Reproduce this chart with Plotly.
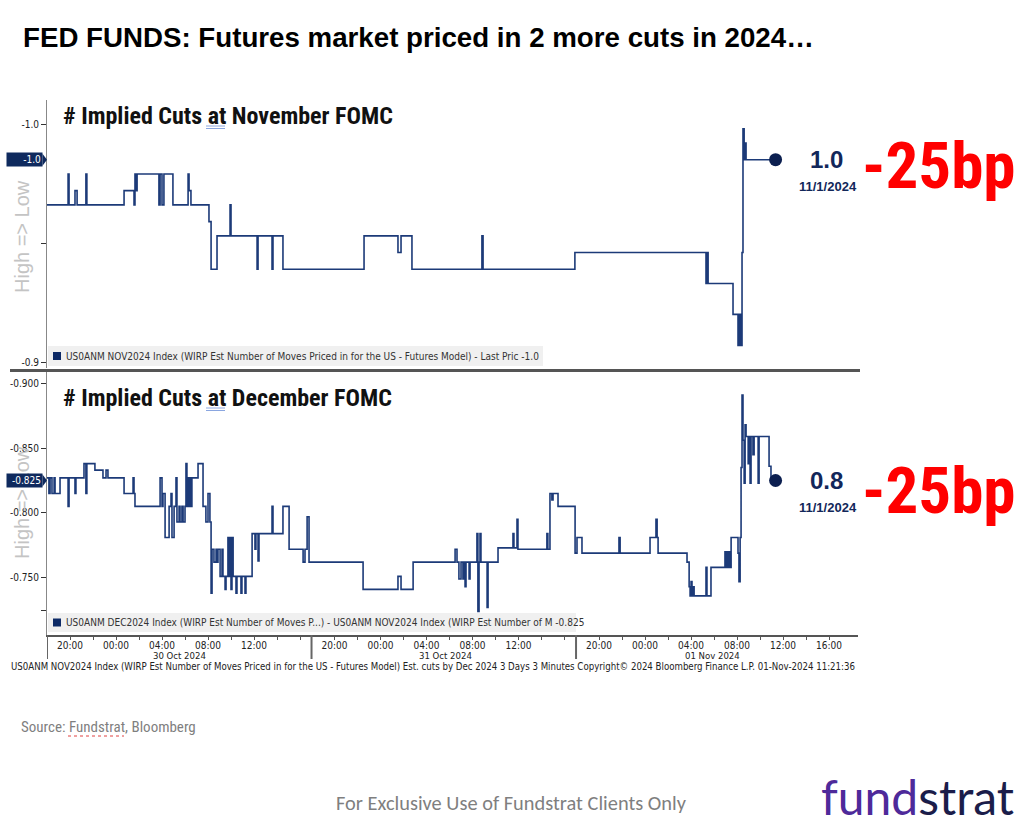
import plotly.graph_objects as go

# ---------------- data ----------------
NOV_TIME = [
    "2024-10-29 18:00", "2024-10-29 19:50", "2024-10-29 19:55", "2024-10-29 20:26", "2024-10-29 20:37",
    "2024-10-29 21:23", "2024-10-29 21:28", "2024-10-30 00:42", "2024-10-30 01:34", "2024-10-30 01:39",
    "2024-10-30 01:44", "2024-10-30 01:50", "2024-10-30 03:44", "2024-10-30 03:50", "2024-10-30 04:00",
    "2024-10-30 04:10", "2024-10-30 04:57", "2024-10-30 06:16", "2024-10-30 06:21", "2024-10-30 06:31",
    "2024-10-30 08:05", "2024-10-30 08:16", "2024-10-30 08:47", "2024-10-30 09:55", "2024-10-30 10:00",
    "2024-10-30 12:16", "2024-10-30 12:21", "2024-10-30 13:34", "2024-10-30 13:39", "2024-10-30 14:31",
    "2024-10-30 22:34", "2024-10-31 01:31", "2024-10-31 01:47", "2024-10-31 02:44", "2024-10-31 08:49",
    "2024-10-31 08:55", "2024-10-31 16:54", "2024-11-01 05:18", "2024-11-01 05:23", "2024-11-01 05:29",
    "2024-11-01 07:39", "2024-11-01 08:05", "2024-11-01 08:10", "2024-11-01 08:16", "2024-11-01 08:21",
    "2024-11-01 08:24", "2024-11-01 08:26", "2024-11-01 08:31", "2024-11-01 08:37", "2024-11-01 08:42",
    "2024-11-01 08:47", "2024-11-01 11:21",
]
NOV_CUTS = [
    -0.966, -0.979, -0.966, -0.972, -0.966,
    -0.979, -0.966, -0.972, -0.966, -0.979,
    -0.972, -0.979, -0.966, -0.979, -0.966,
    -0.979, -0.966, -0.979, -0.972, -0.966,
    -0.959, -0.939, -0.953, -0.966, -0.953,
    -0.939, -0.953, -0.939, -0.953, -0.939,
    -0.953, -0.946, -0.953, -0.939, -0.953,
    -0.939, -0.946, -0.933, -0.946, -0.933,
    -0.920, -0.907, -0.920, -0.907, -0.920,
    -0.907, -0.946, -0.998, -0.985, -0.992,
    -0.985, -0.985,
]

DEC_TIME = [
    "2024-10-29 18:00", "2024-10-29 18:10", "2024-10-29 18:16", "2024-10-29 18:26", "2024-10-29 18:37",
    "2024-10-29 18:42", "2024-10-29 19:08", "2024-10-29 19:50", "2024-10-29 19:55", "2024-10-29 20:26",
    "2024-10-29 20:31", "2024-10-29 21:13", "2024-10-29 21:23", "2024-10-29 21:28", "2024-10-29 22:10",
    "2024-10-29 22:52", "2024-10-29 23:08", "2024-10-29 23:18", "2024-10-30 00:42", "2024-10-30 01:29",
    "2024-10-30 01:34", "2024-10-30 01:39", "2024-10-30 03:50", "2024-10-30 04:00", "2024-10-30 04:05",
    "2024-10-30 04:16", "2024-10-30 04:37", "2024-10-30 04:47", "2024-10-30 04:52", "2024-10-30 05:03",
    "2024-10-30 05:13", "2024-10-30 05:18", "2024-10-30 05:29", "2024-10-30 05:34", "2024-10-30 05:44",
    "2024-10-30 05:50", "2024-10-30 06:00", "2024-10-30 06:05", "2024-10-30 06:10", "2024-10-30 06:16",
    "2024-10-30 06:21", "2024-10-30 06:26", "2024-10-30 06:31", "2024-10-30 06:36", "2024-10-30 07:08",
    "2024-10-30 07:34", "2024-10-30 07:49", "2024-10-30 08:00", "2024-10-30 08:10", "2024-10-30 08:16",
    "2024-10-30 08:21", "2024-10-30 08:31", "2024-10-30 08:42", "2024-10-30 08:47", "2024-10-30 08:52",
    "2024-10-30 09:03", "2024-10-30 09:13", "2024-10-30 09:18", "2024-10-30 09:29", "2024-10-30 09:34",
    "2024-10-30 09:44", "2024-10-30 09:50", "2024-10-30 09:55", "2024-10-30 10:00", "2024-10-30 10:05",
    "2024-10-30 10:11", "2024-10-30 10:26", "2024-10-30 10:31", "2024-10-30 10:52", "2024-10-30 10:57",
    "2024-10-30 11:13", "2024-10-30 11:18", "2024-10-30 11:50", "2024-10-30 12:05", "2024-10-30 12:10",
    "2024-10-30 12:21", "2024-10-30 12:26", "2024-10-30 13:34", "2024-10-30 13:39", "2024-10-30 14:31",
    "2024-10-30 15:03", "2024-10-30 16:16", "2024-10-30 16:26", "2024-10-30 16:37", "2024-10-30 16:47",
    "2024-10-30 22:29", "2024-10-31 01:31", "2024-10-31 01:47", "2024-10-31 02:50", "2024-10-31 06:29",
    "2024-10-31 06:39", "2024-10-31 06:49", "2024-10-31 07:00", "2024-10-31 07:10", "2024-10-31 07:16",
    "2024-10-31 07:21", "2024-10-31 07:26", "2024-10-31 07:42", "2024-10-31 07:47", "2024-10-31 08:23",
    "2024-10-31 08:28", "2024-10-31 08:34", "2024-10-31 08:39", "2024-10-31 08:44", "2024-10-31 09:16",
    "2024-10-31 09:21", "2024-10-31 10:13", "2024-10-31 11:31", "2024-10-31 11:36", "2024-10-31 11:52",
    "2024-10-31 11:57", "2024-10-31 14:28", "2024-10-31 14:33", "2024-10-31 14:44", "2024-10-31 14:54",
    "2024-10-31 15:00", "2024-10-31 15:26", "2024-10-31 16:55", "2024-10-31 18:05", "2024-10-31 18:31",
    "2024-10-31 21:44", "2024-10-31 21:50", "2024-11-01 00:26", "2024-11-01 00:57", "2024-11-01 01:03",
    "2024-11-01 01:08", "2024-11-01 03:39", "2024-11-01 03:50", "2024-11-01 03:55", "2024-11-01 04:00",
    "2024-11-01 04:05", "2024-11-01 04:10", "2024-11-01 04:16", "2024-11-01 05:18", "2024-11-01 05:23",
    "2024-11-01 05:44", "2024-11-01 06:57", "2024-11-01 07:03", "2024-11-01 07:08", "2024-11-01 07:13",
    "2024-11-01 07:18", "2024-11-01 07:23", "2024-11-01 07:29", "2024-11-01 08:05", "2024-11-01 08:10",
    "2024-11-01 08:16", "2024-11-01 08:21", "2024-11-01 08:26", "2024-11-01 08:31", "2024-11-01 08:37",
    "2024-11-01 08:42", "2024-11-01 08:47", "2024-11-01 08:58", "2024-11-01 09:03", "2024-11-01 09:08",
    "2024-11-01 09:13", "2024-11-01 09:23", "2024-11-01 09:29", "2024-11-01 09:50", "2024-11-01 09:55",
    "2024-11-01 10:47", "2024-11-01 10:57", "2024-11-01 11:21",
]
DEC_CUTS = [
    -0.827, -0.815, -0.827, -0.815, -0.827,
    -0.815, -0.827, -0.805, -0.827, -0.815,
    -0.827, -0.838, -0.815, -0.838, -0.833,
    -0.827, -0.833, -0.827, -0.815, -0.827,
    -0.815, -0.805, -0.827, -0.805, -0.815,
    -0.781, -0.805, -0.815, -0.781, -0.805,
    -0.827, -0.793, -0.805, -0.793, -0.805,
    -0.793, -0.805, -0.838, -0.805, -0.827,
    -0.805, -0.827, -0.805, -0.827, -0.838,
    -0.805, -0.793, -0.815, -0.793, -0.738,
    -0.772, -0.762, -0.772, -0.762, -0.772,
    -0.751, -0.772, -0.751, -0.741, -0.751,
    -0.781, -0.751, -0.781, -0.741, -0.781,
    -0.751, -0.738, -0.751, -0.738, -0.751,
    -0.738, -0.751, -0.784, -0.772, -0.784,
    -0.763, -0.784, -0.805, -0.784, -0.805,
    -0.772, -0.762, -0.772, -0.797, -0.762,
    -0.741, -0.751, -0.741, -0.762, -0.772,
    -0.762, -0.749, -0.762, -0.749, -0.762,
    -0.743, -0.762, -0.749, -0.762, -0.784,
    -0.724, -0.762, -0.784, -0.762, -0.727,
    -0.762, -0.773, -0.784, -0.773, -0.795,
    -0.772, -0.784, -0.772, -0.815, -0.810,
    -0.815, -0.805, -0.769, -0.781, -0.769,
    -0.781, -0.769, -0.781, -0.795, -0.781,
    -0.769, -0.762, -0.743, -0.736, -0.747,
    -0.736, -0.743, -0.736, -0.758, -0.736,
    -0.758, -0.770, -0.758, -0.770, -0.758,
    -0.770, -0.758, -0.781, -0.769, -0.747,
    -0.781, -0.835, -0.891, -0.856, -0.823,
    -0.868, -0.859, -0.838, -0.859, -0.823,
    -0.859, -0.845, -0.859, -0.823, -0.859,
    -0.836, -0.825, -0.825,
]

TICK_TIMES = [
    "2024-10-29 20:00", "2024-10-29 22:00", "2024-10-30 00:00", "2024-10-30 02:00", "2024-10-30 04:00",
    "2024-10-30 06:00", "2024-10-30 08:00", "2024-10-30 10:00", "2024-10-30 12:00", "2024-10-30 14:00",
    "2024-10-30 16:00",
    "2024-10-30 20:00", "2024-10-30 22:00", "2024-10-31 00:00", "2024-10-31 02:00", "2024-10-31 04:00",
    "2024-10-31 06:00", "2024-10-31 08:00", "2024-10-31 10:00", "2024-10-31 12:00", "2024-10-31 14:00",
    "2024-10-31 16:00",
    "2024-10-31 20:00", "2024-10-31 22:00", "2024-11-01 00:00", "2024-11-01 02:00", "2024-11-01 04:00",
    "2024-11-01 06:00", "2024-11-01 08:00", "2024-11-01 10:00", "2024-11-01 12:00", "2024-11-01 14:00",
    "2024-11-01 16:00",
]
TICK_LABELS = [
    "20:00", "", "00:00", "", "04:00", "", "08:00", "", "12:00", "", "",
    "20:00", "", "00:00", "", "04:00", "", "08:00", "", "12:00", "", "",
    "20:00", "", "00:00", "", "04:00", "", "08:00", "", "12:00", "", "16:00",
]
SESSION_STARTS = ["2024-10-29 18:00", "2024-10-30 18:00", "2024-10-31 18:00"]
DATE_LABELS = ["30 Oct 2024", "31 Oct 2024", "01 Nov 2024"]
DATE_CENTERS = ["2024-10-30 05:30", "2024-10-31 05:40", "2024-11-01 05:50"]
X_RANGE = ["2024-10-29 18:00", "2024-11-01 19:31"]

NOV_TICKS = [-1.0, -0.95, -0.9]
NOV_TICK_TEXT = ["-1.0", "", "-0.9"]
DEC_TICKS = [-0.9, -0.85, -0.8, -0.75, -0.725]
DEC_TICK_TEXT = ["-0.900", "-0.850", "-0.800", "-0.750", ""]

# ---------------- layout helpers ----------------
W, H = 1024, 824


def px(x):
    return x / W


def py(y):
    return 1 - y / H


NAVY = "#1c3a78"
TAG = "#0f2a5e"
DOT = "#0c1f50"
SANS = "Liberation Sans, Arial, sans-serif"
BBG = "DejaVu Sans Condensed, Tahoma, Liberation Sans, sans-serif"
NARROW = "Roboto Condensed, Arial Narrow, Liberation Sans, sans-serif"

NOV_TOP, NOV_BOT = 100, 368
DEC_TOP, DEC_BOT = 372, 635
NOV_PER_PX = 0.1 / 238.0
DEC_PER_PX = 0.05 / 64.8
nov_range = [-1.0 + (NOV_BOT - 124) * NOV_PER_PX, -1.0 - (124 - NOV_TOP) * NOV_PER_PX]
dec_range = [-0.9 + (DEC_BOT - 383.3) * DEC_PER_PX, -0.9 - (383.3 - DEC_TOP) * DEC_PER_PX]

fig = go.Figure()
fig.add_trace(go.Scatter(x=NOV_TIME, y=NOV_CUTS, mode="lines", line=dict(color=NAVY, width=1.6, shape="hv"),
                         xaxis="x", yaxis="y", hoverinfo="skip", showlegend=False))
fig.add_trace(go.Scatter(x=DEC_TIME, y=DEC_CUTS, mode="lines", line=dict(color=NAVY, width=1.6, shape="hv"),
                         xaxis="x", yaxis="y2", hoverinfo="skip", showlegend=False))
fig.add_trace(go.Scatter(x=[NOV_TIME[-1]], y=[NOV_CUTS[-1]], mode="markers", marker=dict(color=DOT, size=13),
                         xaxis="x", yaxis="y", hoverinfo="skip", showlegend=False))
fig.add_trace(go.Scatter(x=[DEC_TIME[-1]], y=[DEC_CUTS[-1]], mode="markers", marker=dict(color=DOT, size=13),
                         xaxis="x", yaxis="y2", hoverinfo="skip", showlegend=False))

axis_common = dict(showgrid=False, zeroline=False, showline=True, ticks="outside", ticklen=5,
                   tickcolor="#333", tickwidth=1, tickfont=dict(family=BBG, size=10, color="#222"),
                   fixedrange=True)

fig.update_layout(
    width=W, height=H, margin=dict(l=0, r=0, t=0, b=0),
    paper_bgcolor="white", plot_bgcolor="white",
    xaxis=dict(domain=[px(47), px(858)], anchor="y2", type="date", range=X_RANGE,
               rangebreaks=[dict(pattern="hour", bounds=[17, 18])],
               tickmode="array", tickvals=TICK_TIMES, ticktext=TICK_LABELS, ticks="",
               minor=dict(tickmode="array", tickvals=TICK_TIMES, ticks="outside", ticklen=3,
                          tickcolor="#555", showgrid=False),
               showgrid=False, zeroline=False, showline=True, linecolor="#555", linewidth=2,
               tickfont=dict(family=BBG, size=10, color="#222"), fixedrange=True),
    yaxis=dict(domain=[py(NOV_BOT), py(NOV_TOP)], anchor="x", range=nov_range,
               tickmode="array", tickvals=NOV_TICKS, ticktext=NOV_TICK_TEXT,
               linecolor="#888", linewidth=1, **axis_common),
    yaxis2=dict(domain=[py(DEC_BOT), py(DEC_TOP)], anchor="x", range=dec_range,
                tickmode="array", tickvals=DEC_TICKS, ticktext=DEC_TICK_TEXT,
                linecolor="#888", linewidth=1, **axis_common),
)

shapes = []
annotations = []

# vertical "High => Low" labels (behind tags)
for yc in (237, 503):
    annotations.append(dict(xref="paper", yref="paper", x=px(22), y=py(yc), text="High => Low",
                            textangle=-90, showarrow=False, xanchor="center", yanchor="middle",
                            font=dict(family=SANS, size=20, color="#c4c4c4")))

# legend boxes
legends = [
    (346, 366, 543, "US0ANM NOV2024 Index (WIRP Est Number of Moves Priced in for the US - Futures Model) - Last Pric -1.0"),
    (613, 632, 576, "US0ANM DEC2024 Index (WIRP Est Number of Moves P...) - US0ANM NOV2024 Index (WIRP Est Number of M -0.825"),
]
for y0, y1, x1, txt in legends:
    shapes.append(dict(type="rect", xref="paper", yref="paper", x0=px(48), x1=px(x1), y0=py(y1), y1=py(y0),
                       fillcolor="#f0f0f0", line=dict(width=0), layer="below"))
    yc = (y0 + y1) / 2
    shapes.append(dict(type="rect", xref="paper", yref="paper", x0=px(53), x1=px(61), y0=py(yc + 4), y1=py(yc - 4),
                       fillcolor="#0d2a66", line=dict(width=0)))
    annotations.append(dict(xref="paper", yref="paper", x=px(64), y=py(yc), text=txt, showarrow=False,
                            xanchor="left", yanchor="middle",
                            font=dict(family=BBG, size=10, color="#333")))

# separator between panels
shapes.append(dict(type="line", xref="paper", yref="paper", x0=px(10), x1=px(860), y0=py(370.5), y1=py(370.5),
                   line=dict(color="#555", width=3)))

# session separators on the time axis
for s in SESSION_STARTS:
    shapes.append(dict(type="line", xref="x", yref="paper", x0=s, x1=s, y0=py(635), y1=py(659),
                       line=dict(color="#666", width=2)))

# date labels
for lab, c in zip(DATE_LABELS, DATE_CENTERS):
    annotations.append(dict(xref="x", yref="paper", x=c, y=py(655), text=lab, showarrow=False,
                            xanchor="center", yanchor="middle",
                            font=dict(family=BBG, size=9.5, color="#222")))

# last value tags on the left axis
for yref, val, txt, per_px in (("y", NOV_CUTS[-1], f"{NOV_CUTS[-1]:.1f}", NOV_PER_PX),
                               ("y2", DEC_CUTS[-1], f"{DEC_CUTS[-1]:.3f}", DEC_PER_PX)):
    annotations.append(dict(xref="paper", yref=yref, x=px(43), y=val, text=txt, showarrow=False,
                            xanchor="right", yanchor="middle", bgcolor=TAG, borderpad=1, width=33, align="right",
                            font=dict(family=BBG, size=10, color="white")))
    d = 6 * per_px
    shapes.append(dict(type="path", xref="paper", yref=yref,
                       path=f"M {px(42.5)},{val - d} L {px(47)},{val} L {px(42.5)},{val + d} Z",
                       fillcolor=TAG, line=dict(width=0)))

# panel titles
for yc, txt, uy in ((116, "# Implied Cuts at November FOMC", 126), (398, "# Implied Cuts at December FOMC", 408)):
    annotations.append(dict(xref="paper", yref="paper", x=px(61), y=py(yc), text=f"<b>{txt}</b>", showarrow=False,
                            xanchor="left", yanchor="middle",
                            font=dict(family=NARROW, size=24, color="#111")))
    for dy in (0, 2.5):
        shapes.append(dict(type="line", xref="paper", yref="paper", x0=px(206), x1=px(225),
                           y0=py(uy + dy), y1=py(uy + dy), line=dict(color="#8aa6e0", width=1)))

# right-side callouts
for yref, val, big_y in (("y", NOV_CUTS[-1], 166), ("y2", DEC_CUTS[-1], 491)):
    annotations.append(dict(xref="paper", yref=yref, x=px(826), y=val, text=f"<b>{abs(val):.1f}</b>",
                            showarrow=False, xanchor="center", yanchor="middle",
                            font=dict(family=SANS, size=24, color="#12275a")))
    annotations.append(dict(xref="paper", yref=yref, x=px(828), y=val, yshift=-27, text="<b>11/1/2024</b>",
                            showarrow=False, xanchor="center", yanchor="middle",
                            font=dict(family=SANS, size=13, color="#12275a")))
    annotations.append(dict(xref="paper", yref="paper", x=px(1018), y=py(big_y), text="<b>-25bp</b>",
                            showarrow=False, xanchor="right", yanchor="middle",
                            font=dict(family=NARROW, size=65, color="#ff0000")))

# title
annotations.append(dict(xref="paper", yref="paper", x=px(21), y=py(37),
                        text="<b>FED FUNDS: Futures market priced in 2 more cuts in 2024…</b>",
                        showarrow=False, xanchor="left", yanchor="middle",
                        font=dict(family=SANS, size=27.7, color="#000")))

# bloomberg footer
annotations.append(dict(xref="paper", yref="paper", x=px(9), y=py(666),
                        text="US0ANM NOV2024 Index (WIRP Est Number of Moves Priced in for the US - Futures Model) "
                             "Est. cuts by Dec 2024 3 Days 3 Minutes Copyright© 2024 Bloomberg Finance L.P. "
                             "01-Nov-2024 11:21:36",
                        showarrow=False, xanchor="left", yanchor="middle",
                        font=dict(family=BBG, size=9.6, color="#222")))

# source
annotations.append(dict(xref="paper", yref="paper", x=px(19), y=py(727), text="Source: Fundstrat, Bloomberg",
                        showarrow=False, xanchor="left", yanchor="middle",
                        font=dict(family=NARROW, size=15, color="#7f7f7f")))
shapes.append(dict(type="line", xref="paper", yref="paper", x0=px(68), x1=px(124), y0=py(736), y1=py(736),
                   line=dict(color="#e04040", width=1, dash="dot")))

annotations.append(dict(xref="paper", yref="paper", x=px(511), y=py(803),
                        text="For Exclusive Use of Fundstrat Clients Only", showarrow=False,
                        xanchor="center", yanchor="middle",
                        font=dict(family="Carlito, Calibri, Lato, sans-serif", size=20.4, color="#7f7f7f")))
annotations.append(dict(xref="paper", yref="paper", x=px(1016), y=py(796),
                        text="<span style='color:#4e2a9a'>fund</span><span style='color:#1b1d4a'>strat</span>",
                        showarrow=False, xanchor="right", yanchor="middle",
                        font=dict(family="Lato, Open Sans, sans-serif", size=48, color="#1b1d4a")))

fig.update_layout(shapes=shapes, annotations=annotations)

fig.write_html("out.html", config={"displayModeBar": False})
with open("out.html", "r", encoding="utf-8") as f:
    html = f.read()
html = html.replace("<head>", "<head><style>html,body{margin:0;padding:0;overflow:hidden;}</style>", 1)
with open("out.html", "w", encoding="utf-8") as f:
    f.write(html)
